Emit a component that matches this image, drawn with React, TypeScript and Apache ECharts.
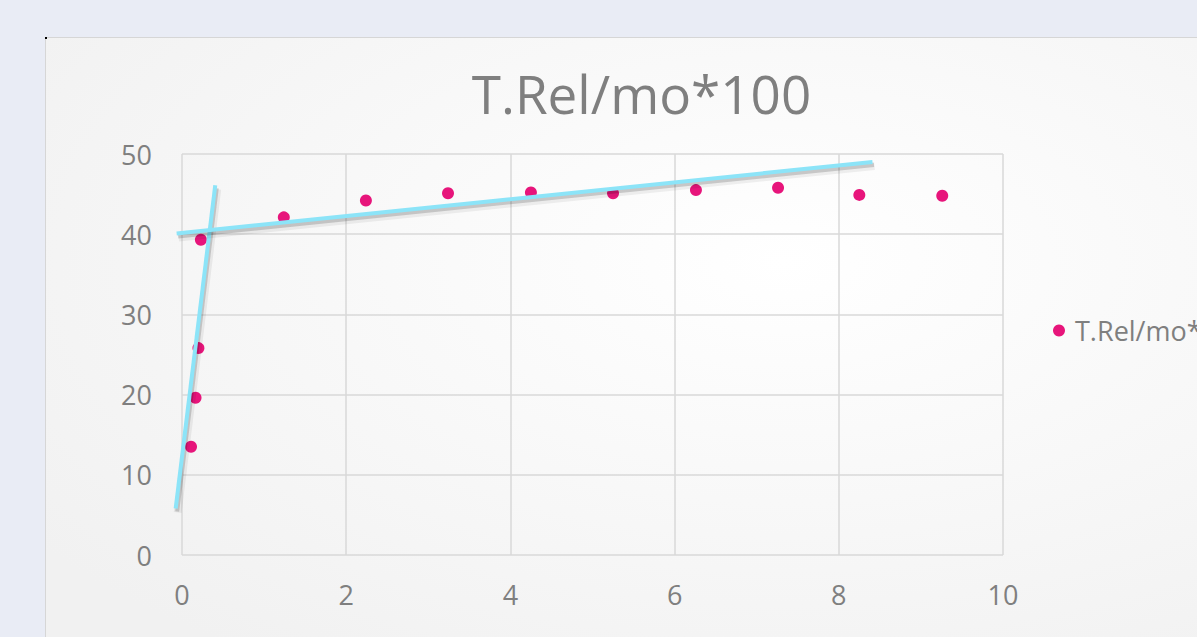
import React, { useEffect, useRef } from "react";
import * as echarts from "echarts";

// Measured release values: x and T.Rel/mo*100
const relX = [0.11, 0.165, 0.2, 0.23, 1.24, 2.24, 3.24, 4.25, 5.25, 6.26, 7.26, 8.25, 9.26];
const relY = [13.5, 19.6, 25.8, 39.3, 42.1, 44.2, 45.1, 45.2, 45.1, 45.5, 45.8, 44.9, 44.8];

// Hand-drawn tangent lines: [xStart, yStart, xEnd, yEnd] in data coordinates
const tangentLines = [
  [-0.077, 5.8, 0.405, 46.1],
  [-0.065, 40.1, 8.41, 49.0],
];

const xTicks = { min: 0, max: 10, step: 2 };
const yTicks = { min: 0, max: 50, step: 10 };

const seriesName = "T.Rel/mo*100";

const FONT = "'Open Sans', 'Noto Sans', sans-serif";
const GREY = "#7f7f7f";

export default function App() {
  const ref = useRef<HTMLDivElement>(null);

  useEffect(() => {
    if (!ref.current) return;
    const chart = echarts.init(ref.current, null, { renderer: "svg" });

    // Draws one tangent line with a soft drop shadow under it
    const renderTangent = (params: any, api: any) => {
      const p1 = api.coord([api.value(0), api.value(1)]);
      const p2 = api.coord([api.value(2), api.value(3)]);
      const seg = (dx: number, dy: number) => ({
        x1: p1[0] + dx,
        y1: p1[1] + dy,
        x2: p2[0] + dx,
        y2: p2[1] + dy,
      });
      return {
        type: "group",
        children: [
          {
            type: "line",
            shape: seg(2, 4),
            style: { stroke: "rgba(0,0,0,0.06)", lineWidth: 8 },
          },
          {
            type: "line",
            shape: seg(1.5, 3),
            style: { stroke: "rgba(0,0,0,0.16)", lineWidth: 4 },
          },
          {
            type: "line",
            shape: seg(0, 0),
            style: { stroke: "#8ce4f8", lineWidth: 4 },
          },
        ],
      };
    };

    chart.setOption({
      animation: false,
      backgroundColor: "#e9ecf5",
      textStyle: { fontFamily: FONT },
      graphic: [
        {
          type: "rect",
          z: -10,
          silent: true,
          shape: { x: 45.5, y: 37.5, width: 1230, height: 640 },
          style: {
            fill: new echarts.graphic.RadialGradient(0.6, 0.35, 0.75, [
              { offset: 0, color: "#ffffff" },
              { offset: 1, color: "#f1f1f1" },
            ]),
            stroke: "#d6d6d6",
            lineWidth: 1,
          },
        },
        {
          type: "rect",
          z: -9,
          silent: true,
          shape: { x: 45, y: 37, width: 2, height: 2 },
          style: { fill: "#000000" },
        },
        {
          type: "text",
          x: 641.5,
          y: 93,
          silent: true,
          style: {
            text: seriesName,
            fontFamily: FONT,
            fontSize: 53,
            fill: GREY,
            align: "center",
            verticalAlign: "middle",
          },
        },
      ],
      legend: {
        data: [seriesName],
        left: 1048,
        top: 312,
        icon: "circle",
        itemWidth: 22,
        itemHeight: 12,
        textStyle: { color: GREY, fontSize: 27, fontFamily: FONT },
      },
      grid: { left: 182, right: 194, top: 154, bottom: 82 },
      xAxis: {
        type: "value",
        min: xTicks.min,
        max: xTicks.max,
        interval: xTicks.step,
        axisLine: { show: false },
        axisTick: { show: false },
        splitLine: { show: true, lineStyle: { color: "#d9d9d9", width: 1.5 } },
        axisLabel: { color: GREY, fontSize: 27, margin: 26, fontFamily: FONT },
      },
      yAxis: {
        type: "value",
        min: yTicks.min,
        max: yTicks.max,
        interval: yTicks.step,
        axisLine: { show: false },
        axisTick: { show: false },
        splitLine: { show: true, lineStyle: { color: "#d9d9d9", width: 1.5 } },
        axisLabel: { color: GREY, fontSize: 27, margin: 30, fontFamily: FONT },
      },
      series: [
        {
          name: seriesName,
          type: "scatter",
          symbolSize: 12,
          itemStyle: { color: "#e7157b", opacity: 1 },
          data: relX.map((x, i) => [x, relY[i]]),
          z: 3,
        },
        {
          name: "tangents",
          type: "custom",
          clip: false,
          silent: true,
          renderItem: renderTangent,
          data: tangentLines,
          encode: { x: [0, 2], y: [1, 3] },
          z: 4,
        },
      ],
    });

    return () => chart.dispose();
  }, []);

  return (
    <div
      ref={ref}
      style={{ position: "fixed", left: 0, top: 0, width: 1197, height: 637 }}
    />
  );
}
